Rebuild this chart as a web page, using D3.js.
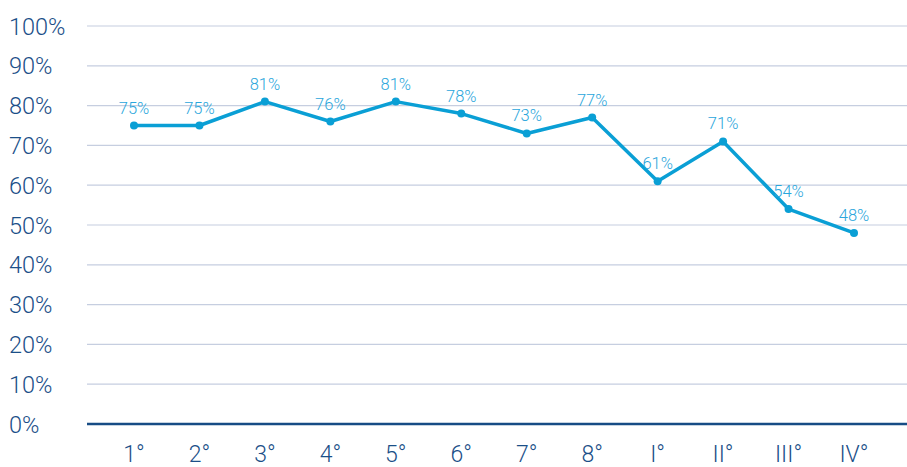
<!DOCTYPE html>
<html>
<head>
<meta charset="utf-8">
<script src="https://cdn.jsdelivr.net/npm/d3@7"></script>
<style>
  body { margin: 0; background: #fff; }
  svg { display: block; font-family: Roboto, 'Open Sans', sans-serif; }
</style>
</head>
<body>
<svg id="chart"></svg>
<script>
var categories = ['1°', '2°', '3°', '4°', '5°', '6°', '7°', '8°', 'I°', 'II°', 'III°', 'IV°']
var values = [75, 75, 81, 76, 81, 78, 73, 77, 61, 71, 54, 48]
var yTicks = [0, 10, 20, 30, 40, 50, 60, 70, 80, 90, 100]

var width = 907, height = 467
var svg = d3.select('#chart').attr('width', width).attr('height', height)

var x = d3.scalePoint().domain(categories).range([134, 854])
var y = d3.scaleLinear().domain([0, 100]).range([424, 26])

// gridlines
svg.selectAll('.grid')
    .data(yTicks.filter(function(d) { return d > 0 }))
    .enter().append('line')
    .attr('x1', 87).attr('x2', width)
    .attr('y1', function(d) { return y(d) }).attr('y2', function(d) { return y(d) })
    .attr('stroke', '#c6cee0')
    .attr('stroke-width', 1.2)

// baseline
svg.append('line')
    .attr('x1', 87).attr('x2', width)
    .attr('y1', y(0)).attr('y2', y(0))
    .attr('stroke', '#174c85')
    .attr('stroke-width', 2.5)

// y tick labels
svg.selectAll('.ylab')
    .data(yTicks)
    .enter().append('text')
    .attr('x', 9)
    .attr('y', function(d) { return y(d) + 8.5 })
    .text(function(d) { return d + '%' })
    .attr('font-size', '23.5px')
    .attr('font-weight', 300)
    .attr('fill', '#1b4f88')

// x tick labels
svg.selectAll('.xlab')
    .data(categories)
    .enter().append('text')
    .attr('x', function(d) { return x(d) })
    .attr('y', 462)
    .attr('text-anchor', 'middle')
    .text(function(d) { return d })
    .attr('font-size', '23px')
    .attr('font-weight', 300)
    .attr('fill', '#1b4f88')

var line = d3.line()
    .x(function(d, i) { return x(categories[i]) })
    .y(function(d) { return y(d) })

svg.append('path')
    .datum(values)
    .attr('d', line)
    .attr('fill', 'none')
    .attr('stroke', '#0a9fd5')
    .attr('stroke-width', 3.5)
    .attr('stroke-linejoin', 'round')

svg.selectAll('.dot')
    .data(values)
    .enter().append('circle')
    .attr('cx', function(d, i) { return x(categories[i]) })
    .attr('cy', function(d) { return y(d) })
    .attr('r', 4)
    .attr('fill', '#0a9fd5')

svg.selectAll('.vlab')
    .data(values)
    .enter().append('text')
    .attr('x', function(d, i) { return x(categories[i]) })
    .attr('y', function(d) { return y(d) - 12 })
    .attr('text-anchor', 'middle')
    .text(function(d) { return d + '%' })
    .attr('font-size', '16.5px')
    .attr('font-weight', 300)
    .attr('fill', '#2aa6dc')
</script>
</body>
</html>
